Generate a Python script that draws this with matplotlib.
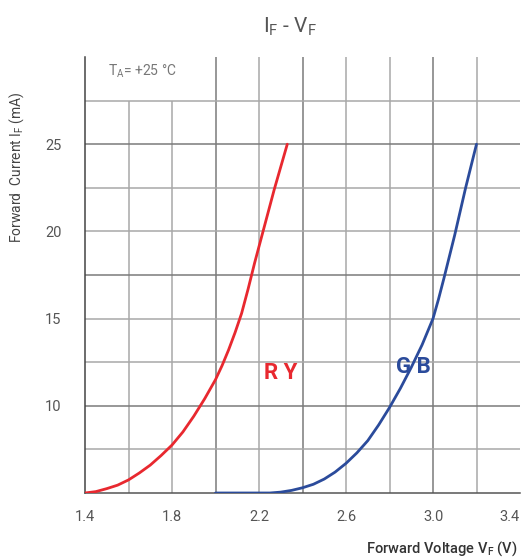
import matplotlib
matplotlib.use("Agg")
import matplotlib.pyplot as plt

plt.rcParams['font.family'] = ['Roboto', 'DejaVu Sans']

# Data
ry_v = [1.40, 1.45, 1.50, 1.55, 1.60, 1.65, 1.70, 1.75, 1.80, 1.85, 1.90, 1.95, 2.00, 2.03, 2.06, 2.09, 2.12, 2.15, 2.18, 2.21, 2.24, 2.27, 2.30, 2.33]
ry_i = [5.0, 5.08, 5.25, 5.45, 5.75, 6.15, 6.6, 7.15, 7.75, 8.5, 9.4, 10.4, 11.5, 12.3, 13.2, 14.2, 15.3, 16.7, 18.2, 19.6, 21.0, 22.4, 23.7, 25.0]

gb_v = [2.00, 2.10, 2.20, 2.25, 2.30, 2.35, 2.40, 2.45, 2.50, 2.55, 2.60, 2.65, 2.70, 2.75, 2.80, 2.85, 2.90, 2.95, 3.00, 3.025, 3.05, 3.10, 3.15, 3.20]
gb_i = [5.0, 5.0, 5.0, 5.0, 5.05, 5.15, 5.3, 5.5, 5.8, 6.2, 6.7, 7.3, 8.0, 8.9, 9.9, 11.0, 12.2, 13.5, 15.0, 16.1, 17.3, 19.8, 22.5, 25.0]

x_ticks = [1.4, 1.8, 2.2, 2.6, 3.0, 3.4]
x_tick_labels = ["1.4", "1.8", "2.2", "2.6", "3.0", "3.4"]
y_ticks = [10, 15, 20, 25]
y_tick_labels = ["10", "15", "20", "25"]

red = "#e8282f"
blue = "#2b4b9b"

fig = plt.figure(figsize=(5.23, 5.58), dpi=100)
ax = fig.add_axes([85/523, 1-493/558, (520-85)/523, (493-57)/558])
ax.set_xlim(1.4, 3.4)
ax.set_ylim(5, 30)

# grid lines
vlines = [1.6, 1.8, 2.0, 2.2, 2.4, 2.6, 2.8, 3.0, 3.2]
dark_v = {2.0, 2.4, 3.0}
for v in vlines:
    top = 27.5 if v < 1.9 else 30
    c = "#7a7a7a" if v in dark_v else "#a8a8a8"
    ax.plot([v, v], [5, top], color=c, lw=1.1, zorder=1, solid_capstyle='butt')
hlines = [7.5, 10, 12.5, 15, 17.5, 20, 22.5, 25, 27.5]
dark_h = {10, 17.5, 25}
for h in hlines:
    c = "#7a7a7a" if h in dark_h else "#a8a8a8"
    ax.plot([1.4, 3.4], [h, h], color=c, lw=1.1, zorder=1, solid_capstyle='butt')

for s in ['top', 'right']:
    ax.spines[s].set_visible(False)
ax.spines['left'].set_color("#444444")
ax.spines['bottom'].set_color("#555555")
ax.spines['left'].set_linewidth(1.1)
ax.spines['bottom'].set_linewidth(1.1)

ax.plot(ry_v, ry_i, color=red, lw=2.0, zorder=3, solid_capstyle='round', solid_joinstyle='round')
ax.plot(gb_v, gb_i, color=blue, lw=2.0, zorder=3, solid_capstyle='round', solid_joinstyle='round')

ax.set_xticks(x_ticks)
ax.set_xticklabels(x_tick_labels)
ax.set_yticks(y_ticks)
ax.set_yticklabels(y_tick_labels)
ax.tick_params(length=0, labelsize=10.5, labelcolor="#555555")
ax.tick_params(axis='x', pad=12)
ax.tick_params(axis='y', pad=17)
ax.get_xticklabels()[-1].set_horizontalalignment('right')

ax.text(2.30, 11.9, "R Y", color=red, fontsize=16, fontweight='bold', ha='center', va='center', zorder=4)
ax.text(2.91, 12.25, "G B", color=blue, fontsize=16, fontweight='bold', ha='center', va='center', zorder=4)

fig.text(108/523, 1-71/558, r"T$_\mathregular{A}$= +25 °C", color="#777777", fontsize=10, ha='left', va='center')
fig.text(290/523, 1-27/558, r"I$_\mathregular{F}$ - V$_\mathregular{F}$", color="#555555", fontsize=15, ha='center', va='center')
fig.text(17/523, 1-167/558, r"Forward  Current I$_\mathregular{F}$ (mA)", color="#444444", fontsize=10, rotation=90, ha='center', va='center')
fig.text(518/523, 1-549/558, r"Forward Voltage V$_\mathregular{F}$ (V)", color="#333333", fontsize=10.5, ha='right', va='center', fontweight='medium')

fig.savefig("out.png", dpi=100)
